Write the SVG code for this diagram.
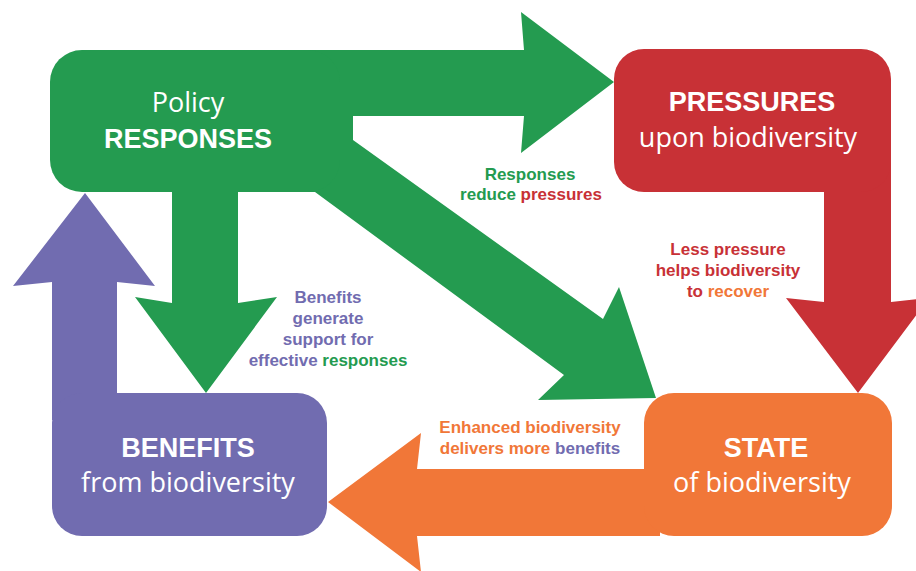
<svg xmlns="http://www.w3.org/2000/svg" width="916" height="571" viewBox="0 0 916 571">
<style>
.g{fill:#249B50}.r{fill:#C83136}.o{fill:#F17738}.p{fill:#716CB0}
.tg{fill:#249B50}.tr{fill:#C83136}.to{fill:#F17738}.tp{fill:#716CB0}
.big{font-family:"Open Sans","Liberation Sans",sans-serif;font-size:27px;fill:#fff;text-anchor:middle}
.bold{font-family:"Liberation Sans",Arial,sans-serif;font-size:27px;font-weight:bold;fill:#fff;text-anchor:middle}
.lbl{font-family:"Liberation Sans",Arial,sans-serif;font-size:17px;font-weight:bold;text-anchor:middle}
</style>
<rect width="916" height="571" fill="#fff"/>
<g id="connectors">
  <polygon class="g" points="250,50 524,50 521,12 614,82 521,153 524,116 250,116"/>
  <polygon class="g" points="300,116 353,116 353,140 603,319 619,287 656,398 538,400 564,375 315,192 300,192"/>
  <polygon class="g" points="172,180 238,180 238,303 277,297 206,393 135,297 172,303"/>
  <polygon class="r" points="824,150 891,150 891,302 929,298 858,393 786,298 824,302"/>
  <polygon class="o" points="660,469 417,469 421,433 328,502 421,572 417,536 660,536"/>
  <polygon class="p" points="117,420 117,282 155,286 85,193 13,286 52,282 52,420"/>
  <text class="lbl tg" x="530" y="180">Responses</text>
  <text class="lbl" x="531" y="200"><tspan class="tg">reduce </tspan><tspan class="tr">pressures</tspan></text>
  <text class="lbl tr" x="728" y="255">Less pressure</text>
  <text class="lbl tr" x="728" y="276">helps biodiversity</text>
  <text class="lbl" x="728" y="297"><tspan class="tr">to </tspan><tspan class="to">recover</tspan></text>
  <text class="lbl tp" x="328" y="303">Benefits</text>
  <text class="lbl tp" x="328" y="324">generate</text>
  <text class="lbl tp" x="328" y="345">support for</text>
  <text class="lbl" x="328" y="366"><tspan class="tp">effective </tspan><tspan class="tg">responses</tspan></text>
  <text class="lbl to" x="530" y="433">Enhanced biodiversity</text>
  <text class="lbl" x="530" y="454"><tspan class="to">delivers more </tspan><tspan class="tp">benefits</tspan></text>
</g>
<g id="responses">
  <rect class="g" x="50" y="50" width="290" height="142" rx="32"/>
  <text class="big" x="188" y="112">Policy</text>
  <text class="bold" x="188" y="148">RESPONSES</text>
</g>
<g id="pressures">
  <rect class="r" x="614" y="49" width="277" height="143" rx="30"/>
  <text class="bold" x="752" y="111">PRESSURES</text>
  <text class="big" x="748" y="147">upon biodiversity</text>
</g>
<g id="state">
  <rect class="o" x="644" y="393" width="248" height="143" rx="30"/>
  <text class="bold" x="766" y="457">STATE</text>
  <text class="big" x="762" y="492">of biodiversity</text>
</g>
<g id="benefits">
  <rect class="p" x="52" y="393" width="275" height="143" rx="30"/>
  <text class="bold" x="188" y="457">BENEFITS</text>
  <text class="big" x="188" y="492">from biodiversity</text>
</g>
</svg>
